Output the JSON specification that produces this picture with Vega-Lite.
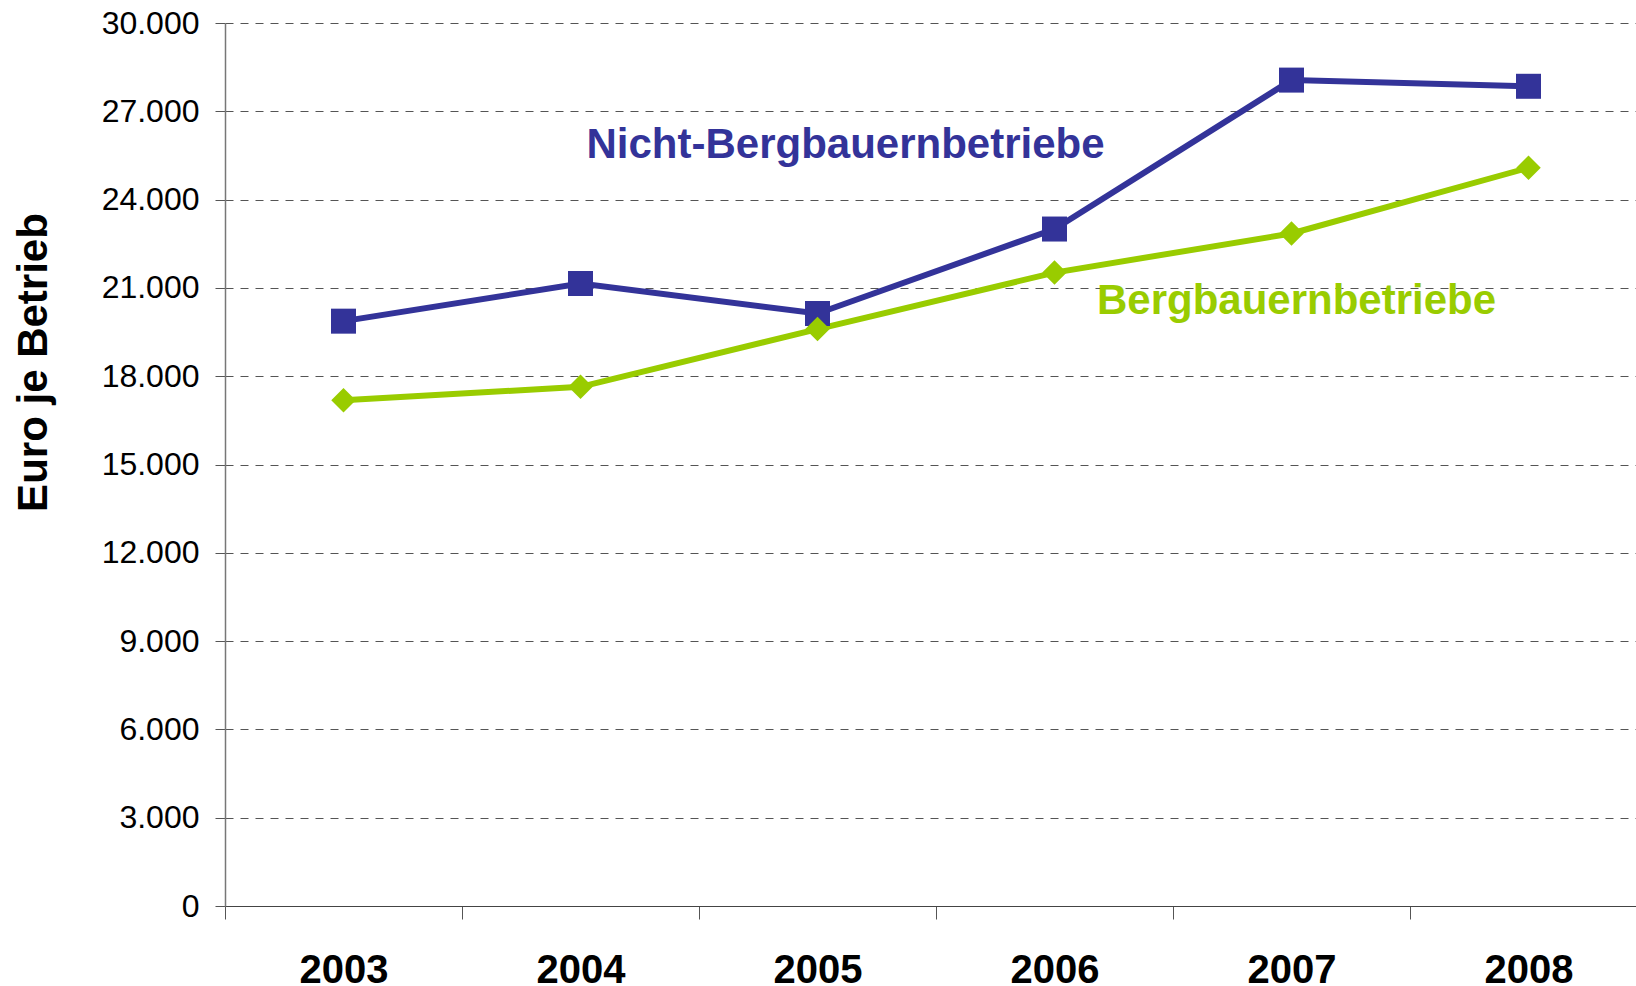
{
  "$schema": "https://vega.github.io/schema/vega-lite/v6.json",
  "autosize": {"type": "none"},
  "padding": {"left": 225, "top": 23, "right": 0, "bottom": 80},
  "width": 1411,
  "height": 883,
  "background": "white",
  "config": {
    "view": {"stroke": null},
    "font": "Liberation Sans"
  },
  "datasets": {
    "series": [
      {"year": "2003", "series": "Nicht-Bergbauernbetriebe", "value": 19870},
      {"year": "2004", "series": "Nicht-Bergbauernbetriebe", "value": 21150},
      {"year": "2005", "series": "Nicht-Bergbauernbetriebe", "value": 20130},
      {"year": "2006", "series": "Nicht-Bergbauernbetriebe", "value": 23000},
      {"year": "2007", "series": "Nicht-Bergbauernbetriebe", "value": 28060},
      {"year": "2008", "series": "Nicht-Bergbauernbetriebe", "value": 27850},
      {"year": "2003", "series": "Bergbauernbetriebe", "value": 17180},
      {"year": "2004", "series": "Bergbauernbetriebe", "value": 17640},
      {"year": "2005", "series": "Bergbauernbetriebe", "value": 19600},
      {"year": "2006", "series": "Bergbauernbetriebe", "value": 21520},
      {"year": "2007", "series": "Bergbauernbetriebe", "value": 22850},
      {"year": "2008", "series": "Bergbauernbetriebe", "value": 25080}
    ],
    "labels": [
      {"year": "2005", "series": "Nicht-Bergbauernbetriebe", "value": 25850, "label": "Nicht-Bergbauernbetriebe"},
      {"year": "2007", "series": "Bergbauernbetriebe", "value": 20570, "label": "Bergbauernbetriebe"}
    ]
  },
  "encoding": {
    "x": {
      "field": "year", "type": "ordinal",
      "scale": {"domain": ["2003", "2004", "2005", "2006", "2007", "2008"], "range": [0, 1422], "paddingInner": 0, "paddingOuter": 0},
      "axis": {
        "title": null,
        "tickBand": "extent",
        "tickSize": 13,
        "tickColor": "#555555",
        "domainColor": "#444444",
        "domainWidth": 1,
        "labelFontSize": 40,
        "labelFontWeight": "bold",
        "labelColor": "#000000",
        "labelPadding": 31,
        "labelAngle": 0,
        "grid": false
      }
    },
    "y": {
      "field": "value", "type": "quantitative",
      "scale": {"domain": [0, 30000], "nice": false},
      "axis": {
        "values": [0, 3000, 6000, 9000, 12000, 15000, 18000, 21000, 24000, 27000, 30000],
        "labelExpr": "replace(format(datum.value, ','), ',', '.')",
        "labelFontSize": 32,
        "labelColor": "#000000",
        "labelPadding": 16,
        "tickSize": 10,
        "tickColor": "#555555",
        "domainColor": "#777777",
        "domainWidth": 1.5,
        "grid": true,
        "gridColor": "#555555",
        "gridDash": [8, 7],
        "gridWidth": 1,
        "title": "Euro je Betrieb",
        "titleFontSize": 42,
        "titleFontWeight": "bold",
        "titleColor": "#000000",
        "titleAngle": -90,
        "titleAlign": "center",
        "titleBaseline": "alphabetic",
        "titleX": -179,
        "titleY": 339
      }
    },
    "color": {
      "field": "series", "type": "nominal",
      "scale": {"domain": ["Nicht-Bergbauernbetriebe", "Bergbauernbetriebe"], "range": ["#333399", "#99CC00"]},
      "legend": null
    }
  },
  "layer": [
    {
      "data": {"name": "series"},
      "mark": {"type": "line", "strokeWidth": 6},
      "encoding": {"detail": {"field": "series"}}
    },
    {
      "data": {"name": "series"},
      "transform": [{"filter": "datum.series == 'Nicht-Bergbauernbetriebe'"}],
      "mark": {"type": "point", "shape": "square", "filled": true, "size": 625, "opacity": 1}
    },
    {
      "data": {"name": "series"},
      "transform": [{"filter": "datum.series == 'Bergbauernbetriebe'"}],
      "mark": {"type": "point", "shape": "diamond", "filled": true, "size": 600, "opacity": 1}
    },
    {
      "data": {"name": "labels"},
      "transform": [{"filter": "datum.series == 'Nicht-Bergbauernbetriebe'"}],
      "mark": {"type": "text", "fontSize": 42, "fontWeight": "bold", "align": "center", "baseline": "middle", "dx": 28},
      "encoding": {"text": {"field": "label"}}
    },
    {
      "data": {"name": "labels"},
      "transform": [{"filter": "datum.series == 'Bergbauernbetriebe'"}],
      "mark": {"type": "text", "fontSize": 42, "fontWeight": "bold", "align": "center", "baseline": "middle", "dx": 5},
      "encoding": {"text": {"field": "label"}}
    }
  ]
}
